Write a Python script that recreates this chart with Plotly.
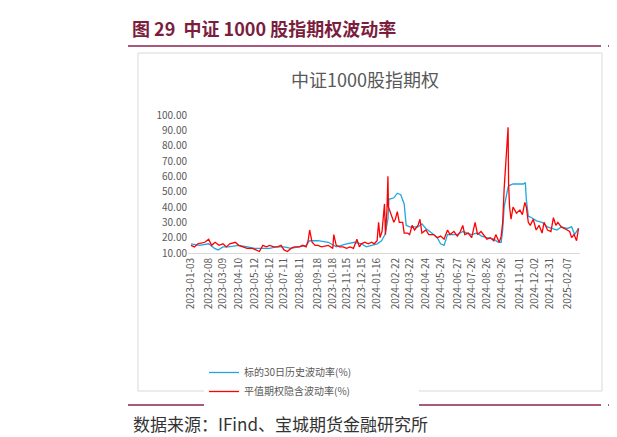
import plotly.graph_objects as go

red_dates = ["2023-01-03","2023-01-10","2023-01-17","2023-01-31","2023-02-08","2023-02-14","2023-02-21","2023-03-01","2023-03-09","2023-03-16","2023-03-23","2023-04-03","2023-04-10","2023-04-20","2023-04-27","2023-05-08","2023-05-15","2023-05-22","2023-05-29","2023-06-05","2023-06-12","2023-06-20","2023-06-28","2023-07-05","2023-07-11","2023-07-18","2023-07-25","2023-08-01","2023-08-11","2023-08-18","2023-08-25","2023-08-29","2023-09-01","2023-09-06","2023-09-12","2023-09-18","2023-09-25","2023-10-09","2023-10-18","2023-10-20","2023-10-25","2023-11-01","2023-11-08","2023-11-15","2023-11-22","2023-11-29","2023-12-06","2023-12-11","2023-12-15","2023-12-22","2023-12-29","2024-01-05","2024-01-10","2024-01-16","2024-01-19","2024-01-22","2024-01-26","2024-01-31","2024-02-02","2024-02-05","2024-02-07","2024-02-08","2024-02-19","2024-02-22","2024-02-26","2024-03-01","2024-03-08","2024-03-11","2024-03-18","2024-03-22","2024-03-27","2024-04-01","2024-04-08","2024-04-12","2024-04-16","2024-04-24","2024-04-30","2024-05-10","2024-05-17","2024-05-24","2024-05-31","2024-06-07","2024-06-12","2024-06-20","2024-06-27","2024-07-03","2024-07-08","2024-07-12","2024-07-19","2024-07-26","2024-08-02","2024-08-07","2024-08-14","2024-08-21","2024-08-26","2024-09-02","2024-09-09","2024-09-13","2024-09-20","2024-09-24","2024-09-27","2024-09-30","2024-10-08","2024-10-09","2024-10-11","2024-10-14","2024-10-18","2024-10-25","2024-11-01","2024-11-06","2024-11-11","2024-11-14","2024-11-18","2024-11-22","2024-11-28","2024-12-04","2024-12-10","2024-12-16","2024-12-20","2024-12-27","2025-01-03","2025-01-08","2025-01-13","2025-01-17","2025-01-24","2025-02-05","2025-02-10","2025-02-14","2025-02-19","2025-02-24","2025-02-28"]
red_vals = [15,14,16,17,19,15,17,15,16,14,16,17,15,14,13,13,12,11,15,14,15,14,14,15,12,11,13,14,14,15,14,18,25,17,15,15,14,15,13,22,15,14,14,13,14,13,19,14,16,17,16,17,16,18,30,20,24,42,22,38,60,40,30,32,37,30,30,23,23,22,28,25,28,32,23,25,22,22,20,21,19,25,22,24,21,24,28,22,23,20,30,22,24,21,19,20,18,22,17,21,30,52,92,55,40,32,40,36,38,35,43,40,30,28,32,25,28,23,30,25,24,33,28,30,27,25,24,20,22,18,26]

blue_dates = ["2023-01-03","2023-01-20","2023-02-08","2023-02-20","2023-02-27","2023-03-09","2023-03-20","2023-04-10","2023-04-28","2023-05-12","2023-05-25","2023-06-12","2023-06-25","2023-07-11","2023-07-25","2023-08-11","2023-08-25","2023-09-01","2023-09-18","2023-10-09","2023-10-18","2023-10-25","2023-11-15","2023-12-01","2023-12-15","2023-12-25","2024-01-05","2024-01-16","2024-01-25","2024-02-01","2024-02-07","2024-02-09","2024-02-19","2024-02-26","2024-03-04","2024-03-11","2024-03-15","2024-03-22","2024-03-29","2024-04-08","2024-04-16","2024-04-24","2024-05-06","2024-05-17","2024-05-24","2024-05-31","2024-06-07","2024-06-20","2024-06-27","2024-07-08","2024-07-19","2024-07-26","2024-08-06","2024-08-15","2024-08-26","2024-09-09","2024-09-18","2024-09-24","2024-09-27","2024-09-30","2024-10-08","2024-10-10","2024-10-18","2024-11-08","2024-11-12","2024-11-14","2024-11-18","2024-11-25","2024-12-05","2024-12-16","2024-12-27","2025-01-06","2025-01-15","2025-01-24","2025-02-05","2025-02-14","2025-02-20","2025-02-28"]
blue_vals = [16,15,16,13,12,14,14,15,14,13,13,13,14,14,13,14,15,18,18,17,15,14,16,17,16,14,15,16,18,22,32,45,46,49,48,42,28,27,27,27,29,26,23,20,16,15,22,22,22,24,23,22,23,21,20,19,17,17,25,40,53,54,55,55,56,45,34,33,31,30,27,26,25,27,26,27,22,26]

tick_dates = ["2023-01-03","2023-02-08","2023-03-09","2023-04-10","2023-05-12","2023-06-12","2023-07-11","2023-08-11","2023-09-18","2023-10-18","2023-11-15","2023-12-15","2024-01-16","2024-02-22","2024-03-22","2024-04-24","2024-05-24","2024-06-27","2024-07-26","2024-08-26","2024-09-26","2024-11-01","2024-12-02","2024-12-31","2025-02-07"]
y_ticks = [10,20,30,40,50,60,70,80,90,100]

F = "Noto Sans CJK SC"
W, H = 617, 437
L, R, T, B = 180, 572, 107, 245
def px(x): return (x - L) / (R - L)
def py(y): return (B - y) / (B - T)

fig = go.Figure()
fig.add_trace(go.Scatter(x=blue_dates, y=blue_vals, mode="lines", name="标的30日历史波动率(%)",
                         line=dict(color="#1FA8E0", width=1.3)))
fig.add_trace(go.Scatter(x=red_dates, y=red_vals, mode="lines", name="平值期权隐含波动率(%)",
                         line=dict(color="#FF0000", width=1.3)))

fig.update_layout(
    width=W, height=H, paper_bgcolor="white", plot_bgcolor="white",
    margin=dict(l=L, r=W - R, t=T, b=H - B, autoexpand=False),
    font=dict(family=F, color="#595959", size=10),
    xaxis=dict(type="date", range=["2022-12-28", "2025-03-03"], tickvals=tick_dates, ticktext=tick_dates,
               tickangle=-90, showgrid=False, showline=True, linecolor="#D9D9D9", ticks="", automargin=False,
               tickfont=dict(size=10, color="#595959")),
    yaxis=dict(range=[10, 100], tickvals=y_ticks, ticktext=[f"{v:.2f}" for v in y_ticks], automargin=False,
               showgrid=False, zeroline=False, ticks="", tickfont=dict(size=10, color="#595959")),
    showlegend=True,
    legend=dict(orientation="h", x=px(196), y=py(350), xanchor="left", yanchor="top",
                font=dict(size=10, color="#595959"), entrywidth=170, entrywidthmode="pixels"),
)

shapes = [
    dict(type="rect", xref="paper", yref="paper", x0=px(130), x1=px(594), y0=py(45), y1=py(383),
         line=dict(color="#D9D9D9", width=1)),
    dict(type="line", xref="paper", yref="paper", x0=px(120), x1=px(593), y0=py(38), y1=py(38),
         line=dict(color="#8B2252", width=1.5)),
    dict(type="line", xref="paper", yref="paper", x0=px(600), x1=px(617), y0=py(38), y1=py(38),
         line=dict(color="#8B2252", width=1.5)),
    dict(type="line", xref="paper", yref="paper", x0=px(120), x1=px(593), y0=py(397), y1=py(397),
         line=dict(color="#8B2252", width=1.5)),
    dict(type="line", xref="paper", yref="paper", x0=px(600), x1=px(617), y0=py(397), y1=py(397),
         line=dict(color="#8B2252", width=1.5)),
]
fig.update_layout(shapes=shapes)

fig.add_annotation(xref="paper", yref="paper", x=px(122), y=py(20), xanchor="left", yanchor="middle",
                   text="<b>图 29  中证 1000 股指期权波动率</b>", showarrow=False,
                   font=dict(family=F, size=18, color="#7B1E3E"))
fig.add_annotation(xref="paper", yref="paper", x=px(357), y=py(71), xanchor="center", yanchor="middle",
                   text="中证1000股指期权", showarrow=False, font=dict(family=F, size=18, color="#595959"))
fig.add_annotation(xref="paper", yref="paper", x=px(123), y=py(415), xanchor="left", yanchor="middle",
                   text="数据来源：IFind、宝城期货金融研究所", showarrow=False,
                   font=dict(family=F, size=17, color="#333333"))

fig.write_html("out.html")
